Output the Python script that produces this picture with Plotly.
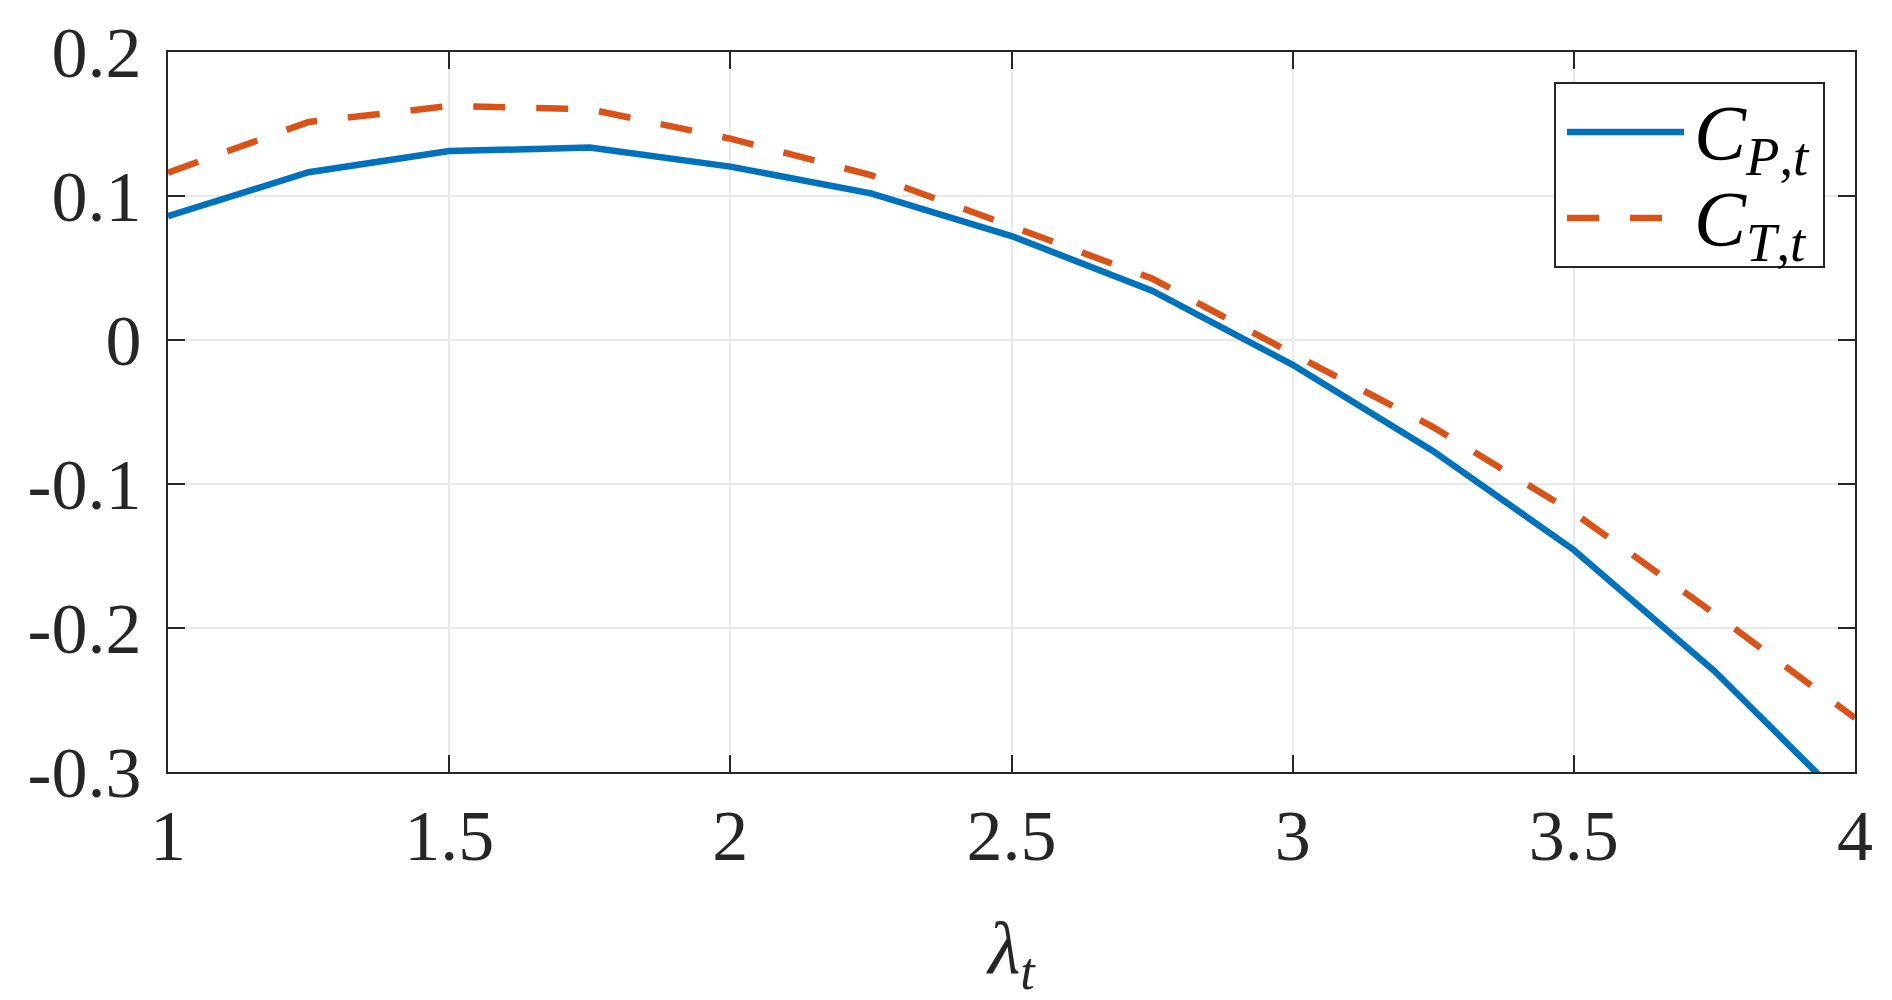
import plotly.graph_objects as go

# ---- data ----
lambda_t = [1.0, 1.25, 1.5, 1.75, 2.0, 2.25, 2.5, 2.75, 3.0, 3.25, 3.5, 3.75, 4.0]
cp_t = [0.086, 0.1165, 0.1312, 0.1336, 0.1204, 0.1018, 0.0722, 0.0343, -0.0172, -0.0772, -0.1458, -0.2299, -0.327]
ct_t = [0.1162, 0.1514, 0.1625, 0.1602, 0.1398, 0.1145, 0.0790, 0.0427, -0.0095, -0.0605, -0.1200, -0.1900, -0.2625]
series_names = ["<i>C</i><sub><i>P</i>,<i>t</i></sub>", "<i>C</i><sub><i>T</i>,<i>t</i></sub>"]
x_ticks = [1, 1.5, 2, 2.5, 3, 3.5, 4]
x_ticktext = ["1", "1.5", "2", "2.5", "3", "3.5", "4"]
y_ticks = [0.2, 0.1, 0, -0.1, -0.2, -0.3]
y_ticktext = ["0.2", "0.1", "0", "-0.1", "-0.2", "-0.3"]
x_title = "<i>λ</i><sub><i>t</i></sub>"

BLUE = "#0072BD"
ORANGE = "#D95319"
AX = "#262626"
GRID = "#E8E8E8"
FONT = "Liberation Serif"

W, H = 1892, 1000
L, R, T, B = 168, 1855, 52, 772

fig = go.Figure()
fig.add_trace(go.Scatter(x=lambda_t, y=cp_t, mode="lines", name=series_names[0],
                         line=dict(color=BLUE, width=6.5), showlegend=False))
fig.add_trace(go.Scatter(x=lambda_t, y=ct_t, mode="lines", name=series_names[1],
                         line=dict(color=ORANGE, width=6.5, dash="32px,31px"), showlegend=False))

axis_common = dict(showline=True, linecolor=AX, linewidth=2, mirror="allticks",
                   ticks="inside", ticklen=17, tickwidth=2, tickcolor=AX,
                   showgrid=True, gridcolor=GRID, gridwidth=2, zeroline=False,
                   tickfont=dict(family=FONT, size=72, color=AX))

fig.update_xaxes(range=[1, 4], tickvals=x_ticks, ticktext=x_ticktext,
                 ticklabelstandoff=0,
                 title=dict(text=x_title, font=dict(family=FONT, size=74, color=AX), standoff=48),
                 **axis_common)
fig.update_yaxes(range=[-0.3, 0.2], tickvals=y_ticks, ticktext=y_ticktext,
                 ticklabelstandoff=10, **axis_common)

# custom legend box (pixel positions converted to paper coordinates)
def px(xp):
    return (xp - L) / (R - L)

def py(yp):
    return (B - yp) / (B - T)

shapes = [
    dict(type="rect", xref="paper", yref="paper", x0=px(1555), x1=px(1824), y0=py(267), y1=py(83),
         line=dict(color=AX, width=2), fillcolor="white", layer="above"),
    dict(type="line", xref="paper", yref="paper", x0=px(1567), x1=px(1684), y0=py(132), y1=py(132),
         line=dict(color=BLUE, width=6.5), layer="above"),
    dict(type="line", xref="paper", yref="paper", x0=px(1567), x1=px(1684), y0=py(218), y1=py(218),
         line=dict(color=ORANGE, width=6.5, dash="32px,31px"), layer="above"),
]
annotations = [
    dict(xref="paper", yref="paper", x=px(1692), y=py(138), xanchor="left", yanchor="middle",
         text=series_names[0], showarrow=False, font=dict(family=FONT, size=78, color="black")),
    dict(xref="paper", yref="paper", x=px(1692), y=py(224), xanchor="left", yanchor="middle",
         text=series_names[1], showarrow=False, font=dict(family=FONT, size=78, color="black")),
]

fig.update_layout(width=W, height=H, margin=dict(l=L, r=W - R, t=T, b=H - B),
                  paper_bgcolor="white", plot_bgcolor="white",
                  shapes=shapes, annotations=annotations, showlegend=False)

fig.write_html("out.html", config={"displayModeBar": False},
               post_script="document.body.style.margin='0';document.body.style.overflow='hidden';")
